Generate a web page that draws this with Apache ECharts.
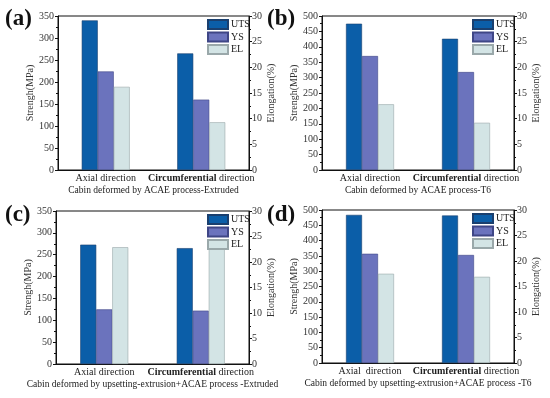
<!DOCTYPE html>
<html><head><meta charset="utf-8">
<script src="https://cdn.jsdelivr.net/npm/echarts@6/dist/echarts.min.js"></script>
<style>html,body{margin:0;padding:0;background:#fff}#c{width:550px;height:398px}</style>
</head><body><div id="c"></div>
<script>
const categories = ['Axial direction', 'Circumferential direction'];
const seriesNames = ['UTS', 'YS', 'EL'];
const panelLabels = ['(a)', '(b)', '(c)', '(d)'];
const subtitles = [
  'Cabin deformed by ACAE process-Extruded',
  'Cabin deformed by ACAE process-T6',
  'Cabin deformed by upsetting-extrusion+ACAE process -Extruded',
  'Cabin deformed by upsetting-extrusion+ACAE process -T6'
];
const strengthMax = [350, 500, 350, 500];
const elongMax = [30, 30, 30, 30];
// values per panel
const a_UTS = [340, 265], a_YS = [224, 160], a_EL = [16.2, 9.3];
const b_UTS = [475, 426], b_YS = [370, 318], b_EL = [12.8, 9.2];
const c_UTS = [273, 265], c_YS = [125, 122], c_EL = [22.9, 23.2];
const d_UTS = [484, 482], d_YS = [357, 353], d_EL = [17.5, 16.9];
const panelData = [[a_UTS, a_YS, a_EL], [b_UTS, b_YS, b_EL], [c_UTS, c_YS, c_EL], [d_UTS, d_YS, d_EL]];

const FONT = '"Liberation Serif", "Times New Roman", serif';
const colors = ['#0b5ea8', '#6b73bd', '#d3e4e5'];
const borders = ['#1a3f6e', '#3f4686', '#9aa8aa'];

const grids = [
  {left: 58, top: 16, width: 191, height: 154},
  {left: 322, top: 16, width: 192, height: 154},
  {left: 56, top: 211, width: 193, height: 153},
  {left: 322, top: 210, width: 192, height: 153}
];
const leftNameGap = [20, 19, 20, 19];
const rightNameGap = [14, 15, 14, 15];

const xAxes = [], yAxes = [], series = [], legends = [], graphics = [];
const axisLine = {show: true, lineStyle: {color: '#111', width: 1}};
const tickLabel = {fontFamily: FONT, fontSize: 10, color: '#333'};
grids.forEach((g, i) => {
  g.show = true; g.borderColor = '#111'; g.borderWidth = 1;
  xAxes.push({
    type: 'category', gridIndex: i, data: categories,
    axisLine: axisLine, axisTick: {show: false},
    axisLabel: {
      interval: 0, hideOverlap: false,
      margin: 3, fontFamily: FONT, fontSize: 10, color: '#222',
      formatter: v => v.startsWith('Circumferential') ? '{b|Circumferential} direction' : (i === 3 ? 'Axial  direction' : v),
      rich: {b: {fontFamily: FONT, fontSize: 10, fontWeight: 'bold', color: '#222'}}
    },
    name: subtitles[i], nameLocation: 'middle', nameGap: 15,
    nameTextStyle: {fontFamily: FONT, fontSize: 9.5, color: '#222', verticalAlign: 'top'}
  });
  yAxes.push({
    type: 'value', gridIndex: i, position: 'left', min: 0, max: strengthMax[i], interval: 50,
    axisLine: axisLine, axisTick: {show: true, length: 3, lineStyle: {color: '#111'}},
    minorTick: {show: true, splitNumber: 2, length: 2, lineStyle: {color: '#111'}},
    splitLine: {show: false}, axisLabel: Object.assign({margin: 4}, tickLabel),
    name: 'Strengh(MPa)', nameLocation: 'middle', nameGap: leftNameGap[i],
    nameTextStyle: {fontFamily: FONT, fontSize: 10, color: '#333'}
  });
  yAxes.push({
    type: 'value', gridIndex: i, position: 'right', min: 0, max: elongMax[i], interval: 5,
    axisLine: axisLine, axisTick: {show: true, length: 3, lineStyle: {color: '#111'}},
    minorTick: {show: true, splitNumber: 2, length: 2, lineStyle: {color: '#111'}},
    splitLine: {show: false}, axisLabel: Object.assign({margin: 3}, tickLabel),
    name: 'Elongation(%)', nameLocation: 'middle', nameGap: rightNameGap[i],
    nameTextStyle: {fontFamily: FONT, fontSize: 10, color: '#333'}
  });
  panelData[i].forEach((vals, s) => {
    series.push({
      type: 'bar', name: seriesNames[s], xAxisIndex: i, yAxisIndex: i * 2 + (s === 2 ? 1 : 0),
      data: vals, barWidth: 16, barGap: '0%', barCategoryGap: '50%',
      itemStyle: {color: colors[s], borderColor: borders[s], borderWidth: 0.6},
      emphasis: {disabled: true}, z: 2
    });
  });
  legends.push({
    orient: 'vertical', left: g.left + g.width - 42, top: g.top + 3,
    data: seriesNames, itemWidth: 20, itemHeight: 9, itemGap: 1.5, padding: 0,
    icon: 'rect', selectedMode: false, z: 5,
    textStyle: {fontFamily: FONT, fontSize: 10, color: '#222', lineHeight: 9, padding: [0, 0, 0, -2]}
  });
  graphics.push({
    type: 'text', left: [5, 267, 5, 267][i], top: [8, 8, 204, 204][i],
    style: {text: panelLabels[i], font: 'bold 23px ' + FONT, fill: '#111'}
  });
});

const chart = echarts.init(document.getElementById('c'), null, {renderer: 'canvas'});
chart.setOption({
  animation: false,
  backgroundColor: '#fff',
  grid: grids, xAxis: xAxes, yAxis: yAxes, series: series, legend: legends,
  graphic: graphics
});
</script></body></html>
